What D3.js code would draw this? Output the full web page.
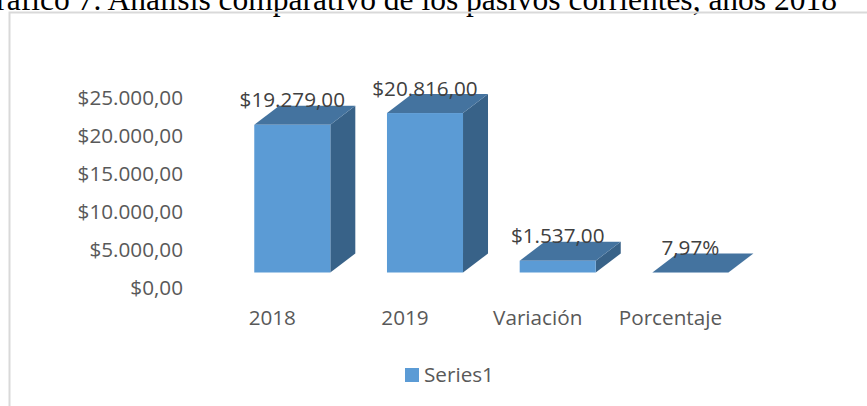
<!DOCTYPE html>
<html>
<head>
<meta charset="utf-8">
<script src="https://cdn.jsdelivr.net/npm/d3@7"></script>
<style>
  html, body { margin: 0; padding: 0; background: #fff; }
  svg { display: block; }
</style>
</head>
<body>
<div id="chart"></div>
<script>
'use strict';

var categories = ['2018', '2019', 'Variación', 'Porcentaje'];
var values = [19279, 20816, 1537, 7.97];
var isPercent = [false, false, false, true];
var yTicks = [0, 5000, 10000, 15000, 20000, 25000];
var seriesName = 'Series1';
var title = 'Gráfico 7. Análisis comparativo de los pasivos corrientes, años 2018';

var width = 867,
    height = 406,
    depth_x = 25,
    depth_y = 19,
    label_shift = 20,
    font_size = 20.7;

var colors = {
    front: '#5b9bd5',
    top: '#44739f',
    side: '#386288',
    axisText: '#595959',
    labelText: '#404040'
};

var locale = d3.formatLocale({
    decimal: ',',
    thousands: '.',
    grouping: [3],
    currency: ['$', '']
});
var fmtMoney = locale.format('$,.2f');
var fmtNum = locale.format(',.2f');

var svg = d3.select('#chart').append('svg')
    .attr('width', width)
    .attr('height', height);

// titulo cortado arriba, como en la captura
svg.append('text')
    .attr('x', 837)
    .attr('y', 9.5)
    .attr('text-anchor', 'end')
    .attr('font-family', '"Liberation Serif", "Times New Roman", serif')
    .attr('font-size', 31.5)
    .attr('fill', '#000')
    .text(title);

// marco del grafico
svg.append('rect')
    .attr('x', 9.5)
    .attr('y', 12.5)
    .attr('width', 900)
    .attr('height', 420)
    .attr('fill', 'none')
    .attr('stroke', '#d9d9d9')
    .attr('stroke-width', 2);

// escala del plano frontal (barras) y del plano de etiquetas
var x = d3.scaleBand()
    .domain(categories)
    .range([226, 756.7])
    .paddingInner(0.427)
    .paddingOuter(0.213);

var yBar = d3.scaleLinear().domain([0, 25000]).range([272.5, 81]);
var yLabel = d3.scaleLinear().domain([0, 25000]).range([287.5, 98.3]);

var yAxis = d3.axisLeft(yLabel)
    .tickValues(yTicks)
    .tickFormat(fmtMoney)
    .tickSize(0)
    .tickPadding(3);

var gy = svg.append('g')
    .attr('transform', 'translate(186,0)')
    .call(yAxis);
gy.select('.domain').remove();
gy.selectAll('text')
    .attr('font-family', '"Open Sans", sans-serif')
    .attr('font-size', font_size)
    .attr('fill', colors.axisText);

var xAxis = d3.axisBottom(x)
    .tickSize(0)
    .tickPadding(10.5);

var gx = svg.append('g')
    .attr('transform', 'translate(' + (-label_shift) + ',300)')
    .call(xAxis);
gx.select('.domain').remove();
gx.selectAll('text')
    .attr('font-family', '"Open Sans", sans-serif')
    .attr('font-size', font_size)
    .attr('fill', colors.axisText);

var data = categories.map(function(c, i) {
    return { cat: c, value: values[i], pct: isPercent[i] };
});

var bar = svg.append('g').selectAll('.bar').data(data)
    .enter().append('g')
    .attr('class', 'bar');

var pts = function(arr) {
    return arr.map(function(p) { return p.join(','); }).join(' ');
};

bar.append('polygon')
    .attr('fill', colors.side)
    .attr('points', function(d) {
        var x1 = x(d.cat) + x.bandwidth(),
            yt = yBar(d.value),
            yb = yBar(0);
        return pts([[x1, yt], [x1 + depth_x, yt - depth_y], [x1 + depth_x, yb - depth_y], [x1, yb]]);
    });

bar.append('polygon')
    .attr('fill', colors.top)
    .attr('points', function(d) {
        var x0 = x(d.cat),
            x1 = x0 + x.bandwidth(),
            yt = yBar(d.value);
        return pts([[x0, yt], [x1, yt], [x1 + depth_x, yt - depth_y], [x0 + depth_x, yt - depth_y]]);
    });

bar.append('rect')
    .attr('fill', colors.front)
    .attr('x', function(d) { return x(d.cat); })
    .attr('y', function(d) { return yBar(d.value); })
    .attr('width', x.bandwidth())
    .attr('height', function(d) { return yBar(0) - yBar(d.value); });

bar.append('text')
    .attr('x', function(d) { return x(d.cat) + x.bandwidth() / 2; })
    .attr('y', function(d) { return yBar(d.value) - depth_y + 1.5; })
    .attr('text-anchor', 'middle')
    .attr('font-family', '"Open Sans", sans-serif')
    .attr('font-size', font_size)
    .attr('fill', colors.labelText)
    .text(function(d) {
        return d.pct ? fmtNum(d.value) + '%' : fmtMoney(d.value);
    });

// leyenda
var legend = svg.append('g').attr('transform', 'translate(405,368)');
legend.append('rect')
    .attr('width', 14)
    .attr('height', 14)
    .attr('fill', colors.front);
legend.append('text')
    .attr('x', 19)
    .attr('y', 13.7)
    .attr('font-family', '"Open Sans", sans-serif')
    .attr('font-size', font_size)
    .attr('fill', colors.axisText)
    .text(seriesName);
</script>
</body>
</html>
